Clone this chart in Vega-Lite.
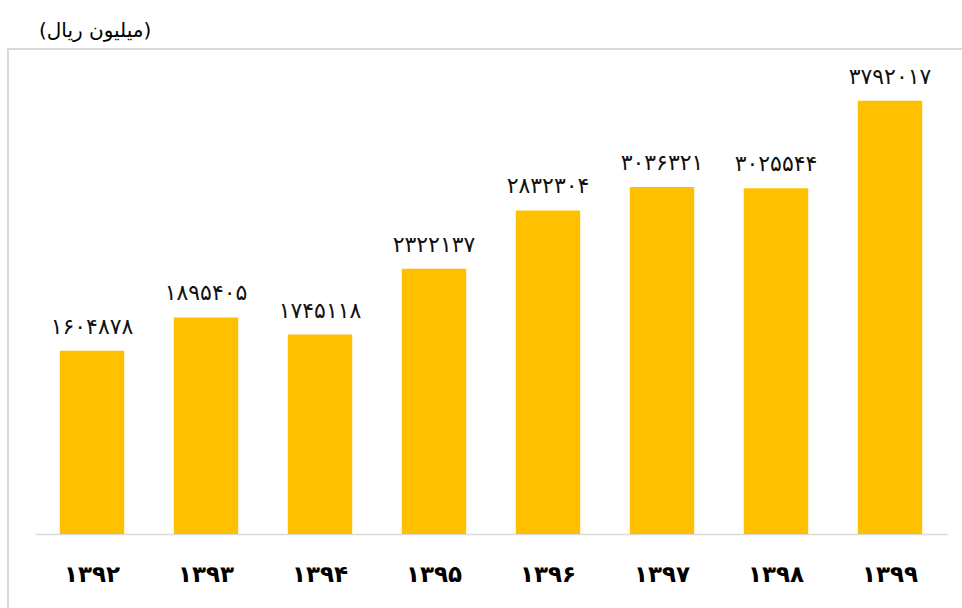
{
  "$schema": "https://vega.github.io/schema/vega-lite/v6.json",
  "width": 960,
  "height": 570,
  "autosize": {"type": "none"},
  "padding": {"left": 8, "top": 49, "right": 0, "bottom": 0},
  "background": "white",
  "title": {
    "text": "(میلیون ریال)",
    "anchor": "start",
    "orient": "top",
    "font": "DejaVu Sans",
    "fontSize": 20,
    "fontWeight": "normal",
    "color": "#000000",
    "dx": 31,
    "offset": 8
  },
  "config": {
    "view": {"stroke": "#d9d9d9", "strokeWidth": 2},
    "font": "DejaVu Sans"
  },
  "data": {
    "values": [
      {"year": "۱۳۹۲", "value": 1604878, "label": "۱۶۰۴۸۷۸"},
      {"year": "۱۳۹۳", "value": 1895405, "label": "۱۸۹۵۴۰۵"},
      {"year": "۱۳۹۴", "value": 1745118, "label": "۱۷۴۵۱۱۸"},
      {"year": "۱۳۹۵", "value": 2322137, "label": "۲۳۲۲۱۳۷"},
      {"year": "۱۳۹۶", "value": 2832304, "label": "۲۸۳۲۳۰۴"},
      {"year": "۱۳۹۷", "value": 3036321, "label": "۳۰۳۶۳۲۱"},
      {"year": "۱۳۹۸", "value": 3025544, "label": "۳۰۲۵۵۴۴"},
      {"year": "۱۳۹۹", "value": 3792017, "label": "۳۷۹۲۰۱۷"}
    ]
  },
  "encoding": {
    "x": {
      "field": "year",
      "type": "nominal",
      "sort": null,
      "scale": {"range": [27, 939], "paddingInner": 0.435, "paddingOuter": 0.2175},
      "axis": {
        "title": null,
        "orient": "bottom",
        "offset": -85,
        "domainColor": "#d9d9d9",
        "domainWidth": 1.5,
        "ticks": false,
        "labelAngle": 0,
        "labelFont": "DejaVu Sans",
        "labelFontSize": 23,
        "labelFontWeight": "bold",
        "labelColor": "#000000",
        "labelPadding": 29
      }
    },
    "y": {
      "field": "value",
      "type": "quantitative",
      "scale": {"domain": [0, 4000000], "range": [485, 28], "nice": false, "zero": true},
      "axis": null
    }
  },
  "layer": [
    {"mark": {"type": "bar", "color": "#ffc000"}},
    {
      "mark": {
        "type": "text",
        "baseline": "bottom",
        "dy": -12,
        "font": "DejaVu Sans",
        "fontSize": 22,
        "color": "#111111"
      },
      "encoding": {"text": {"field": "label"}}
    }
  ]
}
